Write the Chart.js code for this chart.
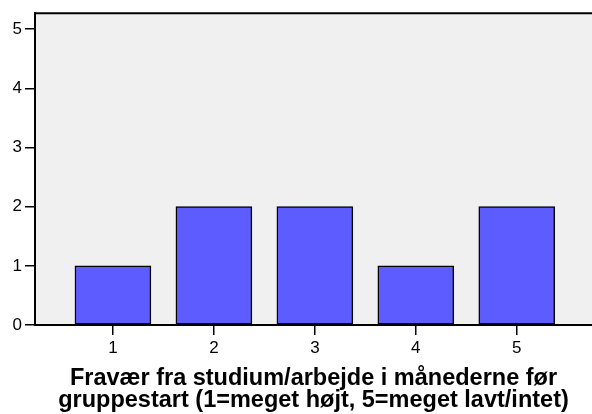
<!DOCTYPE html>
<html>
<head>
<meta charset="utf-8">
<script src="https://cdn.jsdelivr.net/npm/chart.js@4/dist/chart.umd.min.js"></script>
<style>
html,body{margin:0;padding:0;background:#fff;}
#wrap{width:592px;height:414px;}
</style>
</head>
<body>
<div id="wrap"><canvas id="c" width="592" height="414"></canvas></div>
<script>
const categories = [1, 2, 3, 4, 5];
const counts = [1, 2, 2, 1, 2];
const yTicks = [0, 1, 2, 3, 4, 5];
const xTitle = ['Fravær fra studium/arbejde i månederne før', 'gruppestart (1=meget højt, 5=meget lavt/intet)'];

const bgPlugin = {
  id: 'bg',
  beforeDraw(chart) {
    const {ctx, chartArea: a} = chart;
    ctx.save();
    ctx.fillStyle = '#f0f0f0';
    ctx.fillRect(a.left, a.top, a.right - a.left, a.bottom - a.top);
    ctx.strokeStyle = '#000';
    ctx.lineWidth = 2;
    ctx.beginPath();
    ctx.moveTo(a.left, a.top);
    ctx.lineTo(a.right, a.top);
    ctx.stroke();
    ctx.restore();
  }
};

Chart.defaults.font.family = 'Arial, "Liberation Sans", sans-serif';
Chart.defaults.font.size = 17;
Chart.defaults.color = '#000';

new Chart(document.getElementById('c'), {
  type: 'bar',
  data: {
    datasets: [{
      data: categories.map((c, i) => ({x: c, y: counts[i]})),
      backgroundColor: '#5c5cff',
      borderColor: '#000',
      borderWidth: 1.5,
      barThickness: 76,
      borderSkipped: false
    }]
  },
  plugins: [bgPlugin],
  options: {
    responsive: false,
    animation: false,
    layout: {padding: {top: 12, right: 0, left: 0, bottom: 0}},
    plugins: {legend: {display: false}, tooltip: {enabled: false}},
    scales: {
      x: {
        type: 'linear',
        offset: false,
        min: 0.228,
        max: 5.745,
        afterFit(s) { s.height = 89; },
        afterBuildTicks(s) { s.ticks = categories.map(v => ({value: v})); },
        ticks: {stepSize: 1, includeBounds: false, color: '#000', font: {size: 17}, padding: 3,
                maxRotation: 0, callback: v => String(v)},
        grid: {offset: false, drawOnChartArea: false, drawTicks: true, tickLength: 10, color: '#000', lineWidth: 1.5},
        border: {display: true, color: '#000', width: 2},
        title: {display: true, text: xTitle, color: '#000',
                font: {size: 23.5, weight: 'bold', lineHeight: '22.5px'},
                padding: {top: 0, bottom: 2}}
      },
      y: {
        min: 0,
        max: 5.27,
        afterFit(s) { s.width = 35; },
        afterBuildTicks(s) { s.ticks = yTicks.map(v => ({value: v})); },
        ticks: {stepSize: 1, includeBounds: false, color: '#000', font: {size: 17}, padding: 3},
        grid: {drawOnChartArea: false, drawTicks: true, tickLength: 10, color: '#000', lineWidth: 1.5},
        border: {display: true, color: '#000', width: 2}
      }
    }
  }
});
</script>
</body>
</html>
